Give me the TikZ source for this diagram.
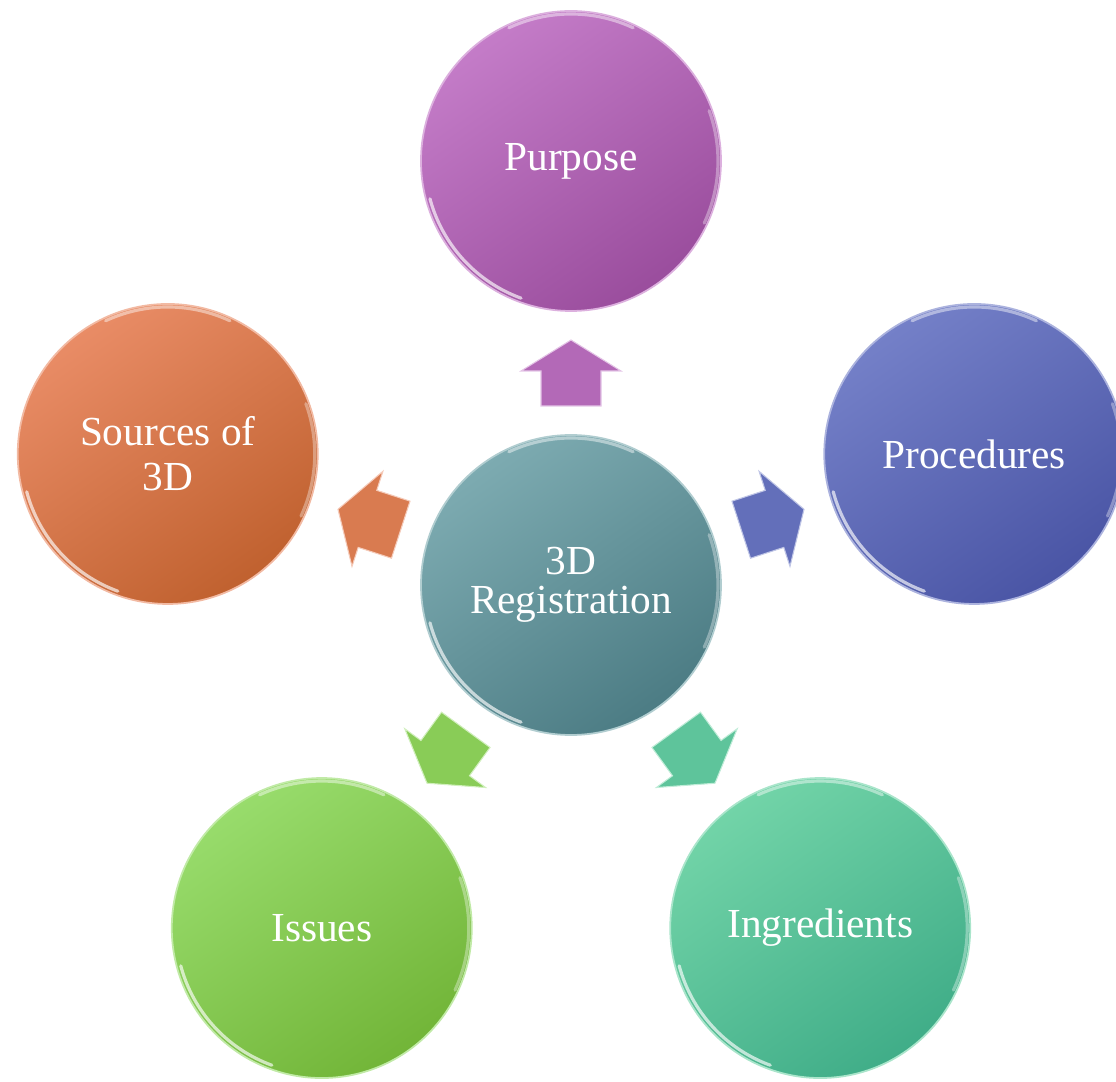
\documentclass[tikz,border=0pt]{standalone}
\usepackage{fontspec}
\setmainfont{Liberation Serif}
\usetikzlibrary{calc}

\definecolor{regL}{HTML}{7DABB1}
\definecolor{regD}{HTML}{4C7C84}
\definecolor{purpL}{HTML}{C47CC8}
\definecolor{purpD}{HTML}{9A4D9D}
\definecolor{procL}{HTML}{7480C8}
\definecolor{procD}{HTML}{4A55A5}
\definecolor{srcL}{HTML}{E98C66}
\definecolor{srcD}{HTML}{C0612F}
\definecolor{issL}{HTML}{98DC6C}
\definecolor{issD}{HTML}{72B538}
\definecolor{ingL}{HTML}{72D4A8}
\definecolor{ingD}{HTML}{40AD88}

\newcommand{\bubblefont}{\fontsize{23.5}{25.5}\selectfont}

\tikzset{
  bubble/.style 2 args={circle, minimum size=60mm, inner sep=0pt, align=center,
    text=white, font=\bubblefont, top color=#1, bottom color=#2,
    shading angle=35, draw=#1!60!white, line width=1pt},
  rim/.style={white, opacity=0.65, line width=1.8pt, line cap=round},
  fatarrow/.pic={
    \path[pic actions] (-33,-30) -- (2,-30) -- (2,-50) -- (33,0)
      -- (2,50) -- (2,30) -- (-33,30) -- cycle;
  }
}

\begin{document}
\begin{tikzpicture}[x=0.2mm, y=0.2mm]
  \useasboundingbox (-571,-496) rectangle (545,585);

  % centre
  \node[bubble={regL}{regD}] (reg) at (0,0) {3D\\[-3pt]Registration};
  \draw[rim] ($(reg)+(195:146)$) arc (195:250:146);
  \draw[rim, opacity=0.45] ($(reg)+(65:147)$) arc (65:115:147);
  \draw[rim, opacity=0.35] ($(reg)+(-25:147)$) arc (-25:20:147);

  % outer ring, arrows pointing outwards
  \foreach \name/\ang/\txt/\cl/\cd in {
      purpose/90/Purpose/purpL/purpD,
      proc/18/Procedures/procL/procD,
      ingr/-54/Ingredients/ingL/ingD,
      issues/-126/Issues/issL/issD,
      sources/162/{Sources of\\3D}/srcL/srcD} {
    \node[bubble={\cl}{\cd}] (\name) at (\ang:424) {\txt};
    \draw[rim] ($(\name)+(195:146)$) arc (195:250:146);
    \draw[rim, opacity=0.45] ($(\name)+(65:147)$) arc (65:115:147);
    \draw[rim, opacity=0.35] ($(\name)+(-25:147)$) arc (-25:20:147);
    \pic[fill=\cl!60!\cd, draw=\cl!45!white, line width=0.6pt, rotate=\ang]
      at ($(reg)!0.5!(\name)$) {fatarrow};
  }
\end{tikzpicture}
\end{document}
